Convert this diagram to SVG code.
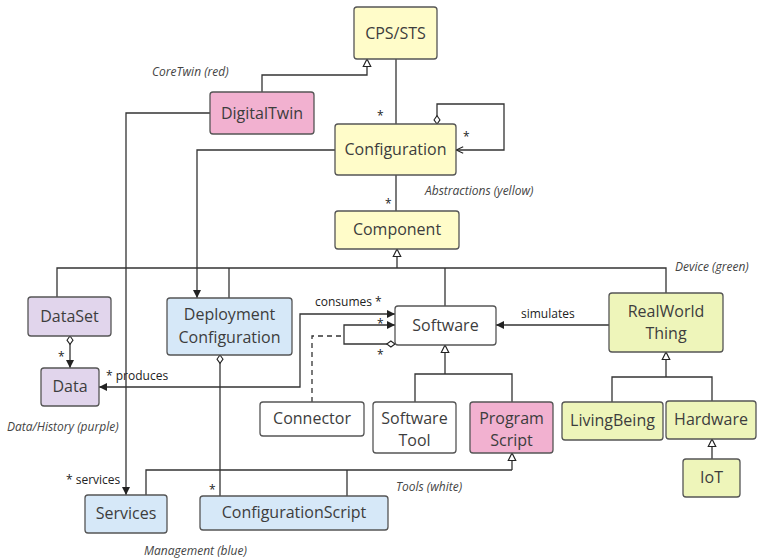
<svg xmlns="http://www.w3.org/2000/svg" width="757" height="558" viewBox="0 0 757 558">
<style>
.n rect{stroke:#555;stroke-width:1.3}
.y{fill:#fffcc9}.p{fill:#f2b1d0}.u{fill:#e1d5ec}.b{fill:#d6e8f8}.g{fill:#eef5ba}.w{fill:#fff}
.n text{font-family:"Open Sans","Noto Sans",sans-serif;font-size:16px;fill:#3d3d3d;text-anchor:middle}
.c path{fill:none;stroke:#333;stroke-width:1.3}
.d{stroke-dasharray:5,4}
.l{font-family:"Open Sans","Noto Sans",sans-serif;font-size:12px;fill:#222}
.a{font-family:"Open Sans","Noto Sans",sans-serif;font-size:12px;font-style:italic;fill:#444}
</style>
<defs>
<marker id="arr" viewBox="0 0 10 10" refX="10" refY="5" markerWidth="9" markerHeight="8" orient="auto-start-reverse" markerUnits="userSpaceOnUse"><path d="M0,0 L10,5 L0,10 z" fill="#222"/></marker>
<marker id="gen" viewBox="-1 -1 12 12" refX="10" refY="5" markerWidth="10" markerHeight="10" orient="auto" markerUnits="userSpaceOnUse"><path d="M1,0.5 L10,5 L1,9.5 z" fill="#fff" stroke="#222" stroke-width="1.4"/></marker>
<marker id="dia" viewBox="-1 -1 14 12" refX="0" refY="5" markerWidth="11" markerHeight="9" orient="auto" markerUnits="userSpaceOnUse"><path d="M0,5 L5.5,1 L11,5 L5.5,9 z" fill="#fff" stroke="#222" stroke-width="1.4"/></marker>
<marker id="open" viewBox="0 0 10 10" refX="10" refY="5" markerWidth="8" markerHeight="8" orient="auto" markerUnits="userSpaceOnUse"><path d="M1,1 L10,5 L1,9" fill="none" stroke="#222" stroke-width="1.4"/></marker>
</defs>
<g class="c" id="connectors">
<path d="M262,92 V75 H367 V59" marker-end="url(#gen)"/>
<path d="M396,59 V124"/>
<path d="M437,124 V104 H504 V150 H456" marker-start="url(#dia)" marker-end="url(#open)"/>
<path d="M210,113 H126 V495" marker-end="url(#arr)"/>
<path d="M335,150 H197 V298" marker-end="url(#arr)"/>
<path d="M396,175 V211"/>
<path d="M397,268 V249" marker-end="url(#gen)"/>
<path d="M57,297 V268 H666 V293"/>
<path d="M229,298 V268"/>
<path d="M445,306 V268"/>
<path d="M70,336 V368" marker-start="url(#dia)" marker-end="url(#arr)"/>
<path d="M220,355 V496" marker-start="url(#dia)"/>
<path d="M99,387 H300 V314 H395" marker-start="url(#arr)" marker-end="url(#arr)"/>
<path d="M395,344 H344 V325 H395" marker-start="url(#dia)" marker-end="url(#arr)"/>
<path class="d" d="M312,402 V336 H344"/>
<path d="M609,325 H496" marker-end="url(#arr)"/>
<path d="M445,374 V345" marker-end="url(#gen)"/>
<path d="M415,402 V374 H512 V402"/>
<path d="M666,377 V352" marker-end="url(#gen)"/>
<path d="M612,402 V377 H712 V401"/>
<path d="M712,459 V439" marker-end="url(#gen)"/>
<path d="M512,470 V453" marker-end="url(#gen)"/>
<path d="M146,495 V470 H512"/>
<path d="M347,496 V470"/>
</g>
<g id="labels">
<text class="l" x="377" y="120">*</text>
<text class="l" x="463" y="141">*</text>
<text class="l" x="385" y="208">*</text>
<text class="l" x="315" y="306">consumes *</text>
<text class="l" x="106" y="380">* produces</text>
<text class="l" x="58" y="361">*</text>
<text class="l" x="377" y="328">*</text>
<text class="l" x="377" y="359">*</text>
<text class="l" x="521" y="318">simulates</text>
<text class="l" x="66" y="484">* services</text>
<text class="l" x="209" y="494">*</text>
<text class="a" x="152" y="76">CoreTwin (red)</text>
<text class="a" x="425" y="195">Abstractions (yellow)</text>
<text class="a" x="675" y="271">Device (green)</text>
<text class="a" x="7" y="431">Data/History (purple)</text>
<text class="a" x="396" y="491">Tools (white)</text>
<text class="a" x="144" y="555">Management (blue)</text>
</g>
<g class="n" id="cps"><rect class="y" x="354" y="7" width="83" height="52" rx="3"/><text x="395.5" y="39">CPS/STS</text></g>
<g class="n" id="digitaltwin"><rect class="p" x="210" y="92" width="104" height="42" rx="3"/><text x="262" y="119">DigitalTwin</text></g>
<g class="n" id="configuration"><rect class="y" x="335" y="124" width="121" height="51" rx="3"/><text x="395.5" y="155">Configuration</text></g>
<g class="n" id="component"><rect class="y" x="335" y="211" width="124" height="38" rx="3"/><text x="397" y="235">Component</text></g>
<g class="n" id="dataset"><rect class="u" x="28" y="297" width="83" height="39" rx="3"/><text x="69.5" y="322">DataSet</text></g>
<g class="n" id="deployment"><rect class="b" x="167" y="298" width="125" height="57" rx="3"/><text x="229.5" y="320">Deployment</text><text x="229.5" y="343">Configuration</text></g>
<g class="n" id="data"><rect class="u" x="41" y="368" width="58" height="38" rx="3"/><text x="70" y="392">Data</text></g>
<g class="n" id="software"><rect class="w" x="395" y="306" width="101" height="39" rx="3"/><text x="445.5" y="331">Software</text></g>
<g class="n" id="realworld"><rect class="g" x="609" y="293" width="114" height="59" rx="3"/><text x="666" y="317">RealWorld</text><text x="666" y="339">Thing</text></g>
<g class="n" id="connector"><rect class="w" x="260" y="402" width="104" height="34" rx="3"/><text x="312" y="424">Connector</text></g>
<g class="n" id="softwaretool"><rect class="w" x="373" y="402" width="83" height="51" rx="3"/><text x="414.5" y="424">Software</text><text x="414.5" y="446">Tool</text></g>
<g class="n" id="programscript"><rect class="p" x="470" y="402" width="83" height="51" rx="3"/><text x="511.5" y="424">Program</text><text x="511.5" y="446">Script</text></g>
<g class="n" id="livingbeing"><rect class="g" x="562" y="402" width="101" height="38" rx="3"/><text x="612.5" y="426">LivingBeing</text></g>
<g class="n" id="hardware"><rect class="g" x="666" y="401" width="90" height="38" rx="3"/><text x="711" y="425">Hardware</text></g>
<g class="n" id="iot"><rect class="g" x="683" y="459" width="57" height="38" rx="3"/><text x="711.5" y="483">IoT</text></g>
<g class="n" id="services"><rect class="b" x="85" y="495" width="82" height="38" rx="3"/><text x="126" y="519">Services</text></g>
<g class="n" id="configscript"><rect class="b" x="200" y="496" width="188" height="34" rx="3"/><text x="294" y="518">ConfigurationScript</text></g>
</svg>
